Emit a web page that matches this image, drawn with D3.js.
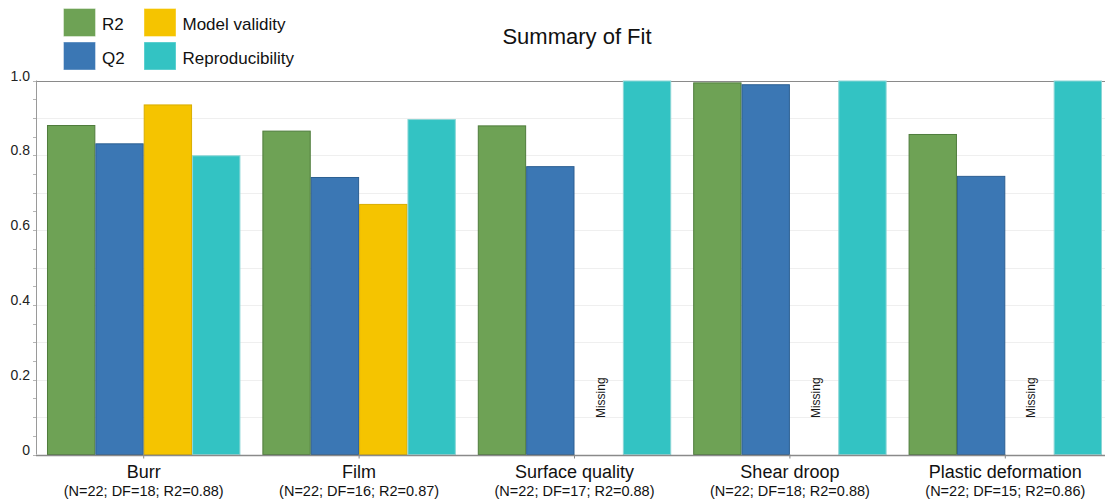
<!DOCTYPE html>
<html>
<head>
<meta charset="utf-8">
<script src="https://cdn.jsdelivr.net/npm/d3@7"></script>
<style>
  html, body { margin: 0; padding: 0; background: #fff; }
  svg { display: block; font-family: "Liberation Sans", Arial, sans-serif; }
</style>
</head>
<body>
<svg id="chart" width="1105" height="501"></svg>
<script>
// Responses and model statistics
const categories = ["Burr", "Film", "Surface quality", "Shear droop", "Plastic deformation"];
const statN = [22, 22, 22, 22, 22];
const statDF = [18, 16, 17, 18, 15];
const statR2 = ["0.88", "0.87", "0.88", "0.88", "0.86"];

// Fit summary per response (null = missing)
const seriesNames = ["R2", "Q2", "Model validity", "Reproducibility"];
const r2Values = [0.881, 0.866, 0.880, 0.995, 0.857];
const q2Values = [0.832, 0.742, 0.771, 0.990, 0.745];
const validityValues = [0.936, 0.670, null, null, null];
const reproValues = [0.800, 0.897, 1.0, 1.0, 1.0];

const yTickLabels = [0, 0.2, 0.4, 0.6, 0.8, 1.0];

const seriesColors = ["#6ea255", "#3b77b4", "#f5c400", "#33c3c3"];
const seriesStrokes = ["#4f7c3c", "#2c5f92", "#d9ad00", "#8ad6d6"];

const seriesValues = [r2Values, q2Values, validityValues, reproValues];

const svg = d3.select("#chart");
const margin = { left: 36, top: 80.5, bottom: 454.5, right: 1113 };

const x = d3.scaleBand()
  .domain(categories)
  .range([margin.left, margin.right])
  .paddingInner(0.102)
  .paddingOuter(0.051);

const xs = d3.scaleBand()
  .domain(seriesNames)
  .range([0, x.bandwidth()]);

const y = d3.scaleLinear().domain([0, 1]).range([margin.bottom, margin.top]);

// gridlines every 0.1
const grid = svg.append("g");
d3.range(1, 10).forEach(i => {
  const v = i / 10;
  grid.append("line")
    .attr("x1", margin.left).attr("x2", 1105)
    .attr("y1", Math.round(y(v)) + 0.5).attr("y2", Math.round(y(v)) + 0.5)
    .attr("stroke", "#efefef").attr("stroke-width", 1.2);
});

// top border line at 1.0
svg.append("line")
  .attr("x1", margin.left).attr("x2", 1105)
  .attr("y1", Math.round(y(1)) + 0.5).attr("y2", Math.round(y(1)) + 0.5)
  .attr("stroke", "#8a8a8a").attr("stroke-width", 1.2);

// bars
const rows = categories.map((c, i) => ({ cat: c, vals: seriesValues.map(s => s[i]) }));
const groups = svg.append("g").selectAll("g")
  .data(rows).join("g")
  .attr("transform", d => `translate(${x(d.cat)},0)`);

groups.selectAll("rect")
  .data(d => d.vals.map((v, k) => ({ k, v, name: seriesNames[k] })).filter(d => d.v !== null))
  .join("rect")
  .attr("x", d => xs(d.name) + 0.5)
  .attr("width", xs.bandwidth() - 1)
  .attr("y", d => y(d.v) + 0.5)
  .attr("height", d => y(0) - y(d.v) - 0.5)
  .attr("fill", d => seriesColors[d.k])
  .attr("stroke", d => seriesStrokes[d.k])
  .attr("stroke-width", 1);

// "Missing" markers
groups.filter(d => d.vals[2] === null)
  .append("text")
  .attr("transform", d => `translate(${xs("Model validity") + xs.bandwidth() / 2 + 6},${y(0.1) + 1}) rotate(-90)`)
  .attr("font-size", 12)
  .attr("fill", "#1a1a1a")
  .text("Missing");

// y axis
const yAxisG = svg.append("g");
yAxisG.append("line")
  .attr("x1", margin.left + 0.5).attr("x2", margin.left + 0.5)
  .attr("y1", y(1)).attr("y2", y(0))
  .attr("stroke", "#9a9a9a");
d3.range(0, 21).forEach(i => {
  const v = i / 20;
  yAxisG.append("line")
    .attr("x1", margin.left - 3).attr("x2", margin.left)
    .attr("y1", Math.round(y(v)) + 0.5).attr("y2", Math.round(y(v)) + 0.5)
    .attr("stroke", "#b5b5b5");
});
yAxisG.selectAll("text.ylab")
  .data(yTickLabels).join("text")
  .attr("class", "ylab")
  .attr("x", 30).attr("y", d => y(d))
  .attr("text-anchor", "end")
  .attr("font-size", 14)
  .attr("fill", "#222")
  .text(d => d === 0 ? "0" : d3.format(".1f")(d));

// x axis
const xAxisG = svg.append("g");
xAxisG.append("line")
  .attr("x1", margin.left).attr("x2", 1105)
  .attr("y1", Math.round(y(0)) + 0.5).attr("y2", Math.round(y(0)) + 0.5)
  .attr("stroke", "#8a8a8a").attr("stroke-width", 1.5);
xAxisG.selectAll("line.tick")
  .data(categories).join("line")
  .attr("class", "tick")
  .attr("x1", d => x(d) + x.bandwidth() / 2).attr("x2", d => x(d) + x.bandwidth() / 2)
  .attr("y1", y(0)).attr("y2", y(0) + 4)
  .attr("stroke", "#8a8a8a");
xAxisG.selectAll("text.cat")
  .data(categories).join("text")
  .attr("class", "cat")
  .attr("x", d => x(d) + x.bandwidth() / 2)
  .attr("y", 478)
  .attr("text-anchor", "middle")
  .attr("font-size", 18)
  .attr("fill", "#111")
  .text(d => d);
xAxisG.selectAll("text.sub")
  .data(categories).join("text")
  .attr("class", "sub")
  .attr("x", d => x(d) + x.bandwidth() / 2)
  .attr("y", 496)
  .attr("text-anchor", "middle")
  .attr("font-size", 14.5)
  .attr("fill", "#111")
  .text((d, i) => `(N=${statN[i]}; DF=${statDF[i]}; R2=${statR2[i]})`);

// title
svg.append("text")
  .attr("x", 577).attr("y", 44)
  .attr("text-anchor", "middle")
  .attr("font-size", 22)
  .attr("fill", "#111")
  .text("Summary of Fit");

// legend (2 columns x 2 rows)
const legendPos = [
  { x: 63.5, y: 8.5 }, { x: 63.5, y: 42 },
  { x: 144, y: 8.5 }, { x: 144, y: 42 }
];
const legend = svg.append("g").selectAll("g")
  .data(seriesNames).join("g")
  .attr("transform", (d, i) => `translate(${legendPos[i].x},${legendPos[i].y})`);
legend.append("rect")
  .attr("width", 32).attr("height", 28)
  .attr("fill", (d, i) => seriesColors[i])
  .attr("stroke", "#ffffff").attr("stroke-opacity", 0.4);
legend.append("text")
  .attr("x", 38.5).attr("y", 21.5)
  .attr("font-size", 17)
  .attr("fill", "#111")
  .text(d => d);
</script>
</body>
</html>
